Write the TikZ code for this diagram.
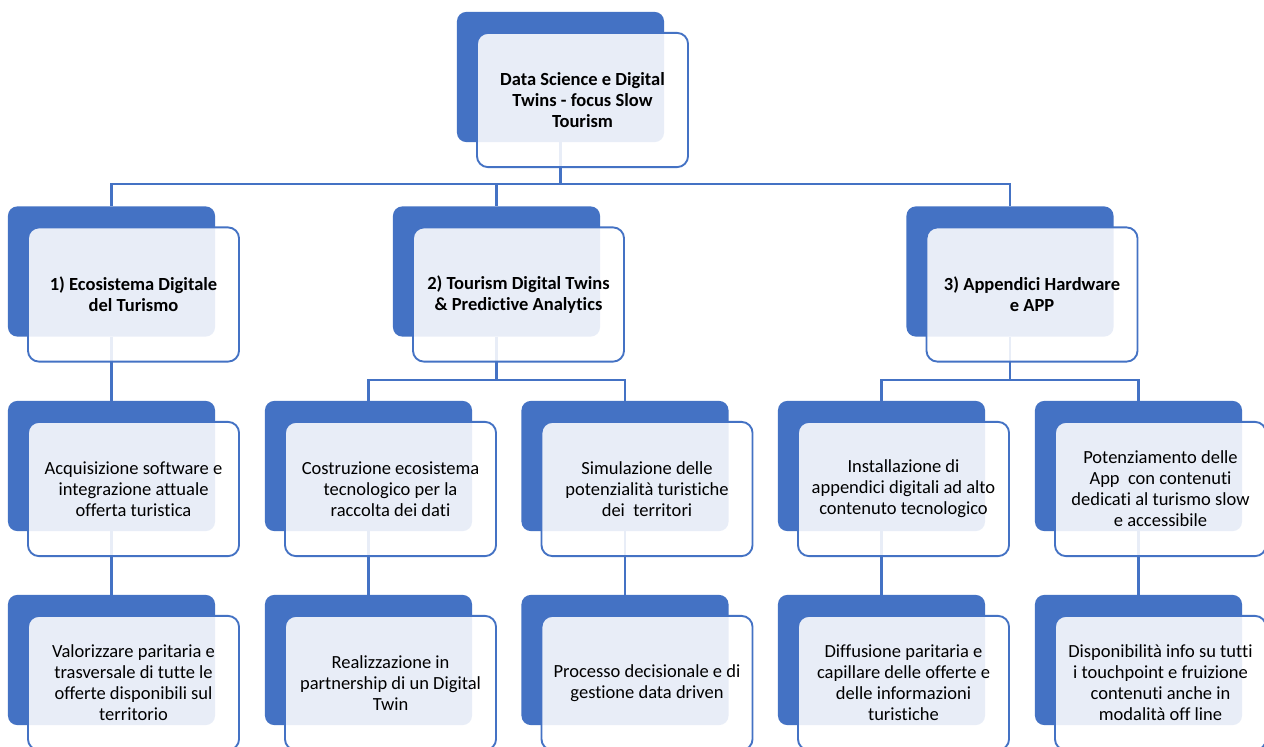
\documentclass[tikz,border=0pt]{standalone}
\usepackage{fontspec}
\setmainfont{Carlito}[Ligatures=NoCommon]
\usetikzlibrary{positioning,backgrounds}
\definecolor{accent}{HTML}{4472C4}
\tikzset{
  backbox/.style  = {rectangle, rounded corners=6pt, fill=accent, draw=none,
                     minimum width=4.66cm, minimum height=2.93cm},
  frontbox/.style = {rectangle, rounded corners=7pt, draw=accent, line width=1.2pt,
                     fill=white, fill opacity=0.88, text opacity=1, align=center,
                     minimum width=4.75cm, minimum height=3.02cm,
                     font=\fontsize{11.85}{13.4}\selectfont},
  headbox/.style  = {frontbox, font=\fontsize{11.85}{13.4}\selectfont\bfseries},
  link/.style     = {draw=accent, line width=1.3pt}
}
% back box (name) and front box (name f) with the text
\newcommand{\twinbox}[5]{%
  \node[backbox] (#1) at (#2,#3) {};
  \node[#4] (#1f) at ([shift={(22,23)}]#1.center) {#5};}

\begin{document}
\begin{tikzpicture}[x=0.0225cm, y=-0.0225cm]
\useasboundingbox (0,0) rectangle (1264,746);

% root
\twinbox{root}{560.5}{77}{headbox}{Data Science e Digital\\ Twins - focus Slow\\ Tourism}

% first level
\twinbox{c1}{111.5}{271.5}{headbox}{1) Ecosistema Digitale\\ del Turismo}
\twinbox{c2}{496.5}{271.5}{headbox}{2) Tourism Digital Twins\\ \& Predictive Analytics}
\twinbox{c3}{1010}{271.5}{headbox}{3) Appendici Hardware\\ e APP}

% second level
\twinbox{c11}{111.5}{466}{frontbox}{Acquisizione software e\\ integrazione attuale\\ offerta turistica}
\twinbox{c21}{368.5}{466}{frontbox}{Costruzione ecosistema\\ tecnologico per la\\ raccolta dei dati}
\twinbox{c22}{625}{466}{frontbox}{Simulazione delle\\ potenzialità turistiche\\ dei~ territori}
\twinbox{c31}{881.5}{466}{frontbox}{Installazione di\\ appendici digitali ad alto\\ contenuto tecnologico}
\twinbox{c32}{1138.5}{466}{frontbox}{Potenziamento delle\\ App~ con contenuti\\ dedicati al turismo slow\\ e accessibile}

% third level
\twinbox{c111}{111.5}{660}{frontbox}{Valorizzare paritaria e\\ trasversale di tutte le\\ offerte disponibili sul\\ territorio}
\twinbox{c211}{368.5}{660}{frontbox}{Realizzazione in\\ partnership di un Digital\\ Twin}
\twinbox{c221}{625}{660}{frontbox}{Processo decisionale e di\\ gestione data driven}
\twinbox{c311}{881.5}{660}{frontbox}{Diffusione paritaria e\\ capillare delle offerte e\\ delle informazioni\\ turistiche}
\twinbox{c321}{1138.5}{660}{frontbox}{Disponibilità info su tutti\\ i touchpoint e fruizione\\ contenuti anche in\\ modalità off line}

% connectors, under the boxes
\begin{scope}[on background layer]
\fill[white] (0,0) rectangle (1264,746);
\foreach \value in {1,2,3}
  \draw[link] (root.south) -- ++(0,42) -| (c\value.north);
\draw[link] (c1.south) -- (c11.north);
\foreach \value in {1,2}
  \draw[link] (c2.south) -- ++(0,43) -| (c2\value.north);
\foreach \value in {1,2}
  \draw[link] (c3.south) -- ++(0,43) -| (c3\value.north);
\foreach \child in {c11,c21,c22,c31,c32}
  \draw[link] (\child.south) -- (\child1.north);
\end{scope}

\end{tikzpicture}
\end{document}
